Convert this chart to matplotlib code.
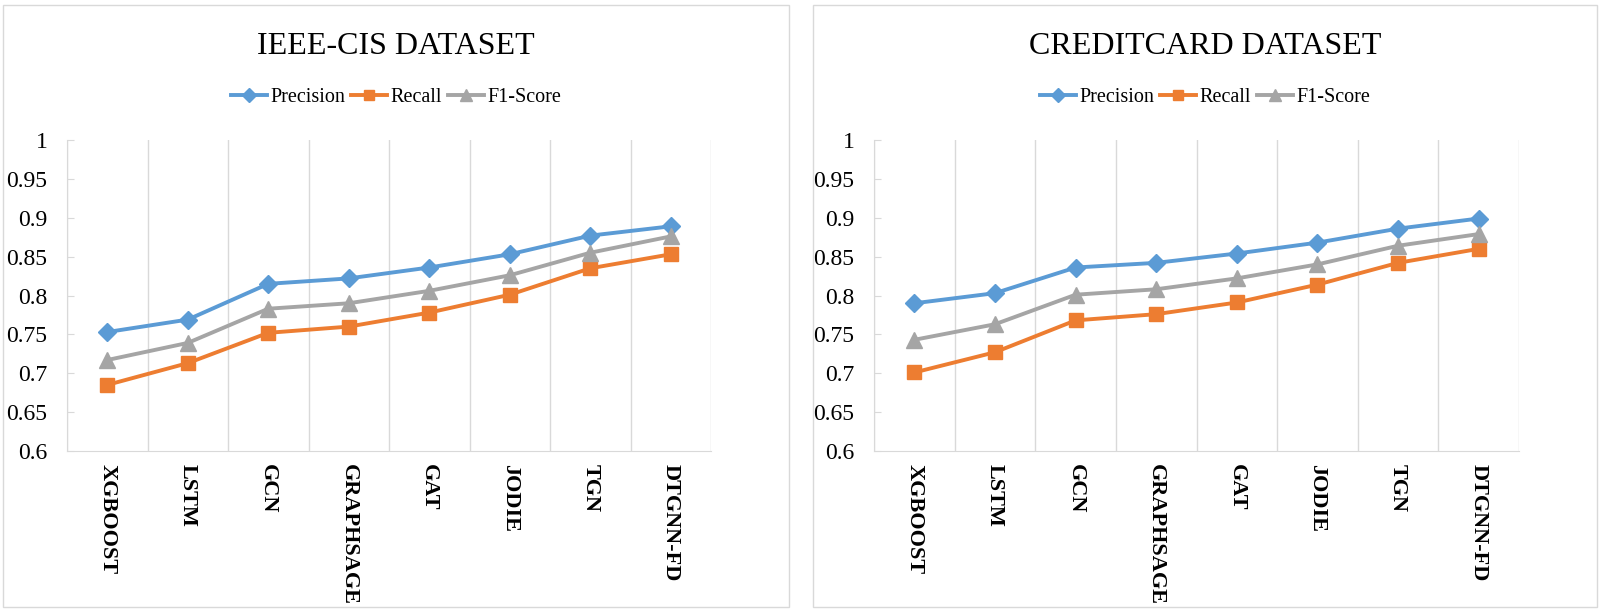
import numpy as np
import matplotlib
matplotlib.use("Agg")
import matplotlib.pyplot as plt
from matplotlib.patches import Rectangle

plt.rcParams['font.family'] = ['Liberation Serif', 'DejaVu Serif']

# data
models = ['XGBOOST', 'LSTM', 'GCN', 'GRAPHSAGE', 'GAT', 'JODIE', 'TGN', 'DTGNN-FD']

ieee_precision = [0.753, 0.769, 0.815, 0.822, 0.836, 0.853, 0.877, 0.889]
ieee_recall = [0.685, 0.713, 0.752, 0.760, 0.778, 0.801, 0.835, 0.853]
ieee_f1 = [0.717, 0.739, 0.783, 0.790, 0.806, 0.826, 0.855, 0.876]

cc_precision = [0.790, 0.803, 0.836, 0.842, 0.854, 0.868, 0.886, 0.899]
cc_recall = [0.701, 0.727, 0.768, 0.776, 0.791, 0.814, 0.842, 0.860]
cc_f1 = [0.743, 0.763, 0.801, 0.808, 0.822, 0.840, 0.864, 0.879]

yticks = [0.6, 0.65, 0.7, 0.75, 0.8, 0.85, 0.9, 0.95, 1]
ylabels = ['0.6', '0.65', '0.7', '0.75', '0.8', '0.85', '0.9', '0.95', '1']

blue = '#5B9BD5'
orange = '#ED7D31'
gray = '#A5A5A5'
grid_c = '#D9D9D9'

W, H = 1600, 612
fig = plt.figure(figsize=(16, 6.12), dpi=100)

# panel borders
for x0, x1 in [(3, 789), (813, 1597)]:
    fig.patches.append(Rectangle((x0 / W, 1 - 607 / H), (x1 - x0) / W, (607 - 5) / H,
                                 transform=fig.transFigure, fill=False,
                                 edgecolor=grid_c, linewidth=1))


def draw(ax, title, prec, rec, f1, cx):
    x = np.arange(len(models)) + 0.5
    ax.plot(x, prec, color=blue, lw=2.8, marker='D', ms=9, label='Precision')
    ax.plot(x, rec, color=orange, lw=2.8, marker='s', ms=10, label='Recall')
    ax.plot(x, f1, color=gray, lw=2.8, marker='^', ms=11, label='F1-Score')
    ax.set_xlim(0, len(models))
    ax.set_ylim(0.6, 1)
    ax.set_yticks(yticks)
    ax.set_yticklabels(ylabels, fontsize=17)
    ax.set_xticks(x)
    ax.set_xticklabels(models, rotation=-90, fontsize=16, fontweight='bold',
                       va='top', ha='center')
    ax.set_xticks(np.arange(len(models) + 1), minor=True)
    ax.grid(True, which='minor', axis='x', color=grid_c, lw=1)
    ax.tick_params(axis='x', which='both', length=0, pad=9)
    ax.tick_params(axis='y', direction='in', length=5, color=grid_c, pad=14)
    for s in ['top', 'right']:
        ax.spines[s].set_visible(False)
    for s in ['left', 'bottom']:
        ax.spines[s].set_color(grid_c)
    fig.text(cx, 1 - 47 / H, title, fontsize=23, ha='center', va='center')
    ax.legend(loc='center', bbox_to_anchor=(cx, 1 - 97 / H), bbox_transform=fig.transFigure,
              ncol=3, frameon=False, fontsize=14.5, handlelength=1.8, handletextpad=0.15,
              columnspacing=0.3, borderaxespad=0, markerscale=0.75)


ax1 = fig.add_axes([67 / W, 1 - 451 / H, 644 / W, 311 / H])
ax2 = fig.add_axes([874 / W, 1 - 451 / H, 645 / W, 311 / H])

draw(ax1, 'IEEE-CIS DATASET', ieee_precision, ieee_recall, ieee_f1, 396 / W)
draw(ax2, 'CREDITCARD DATASET', cc_precision, cc_recall, cc_f1, 1205 / W)

fig.savefig('out.png', dpi=100, facecolor='white')
